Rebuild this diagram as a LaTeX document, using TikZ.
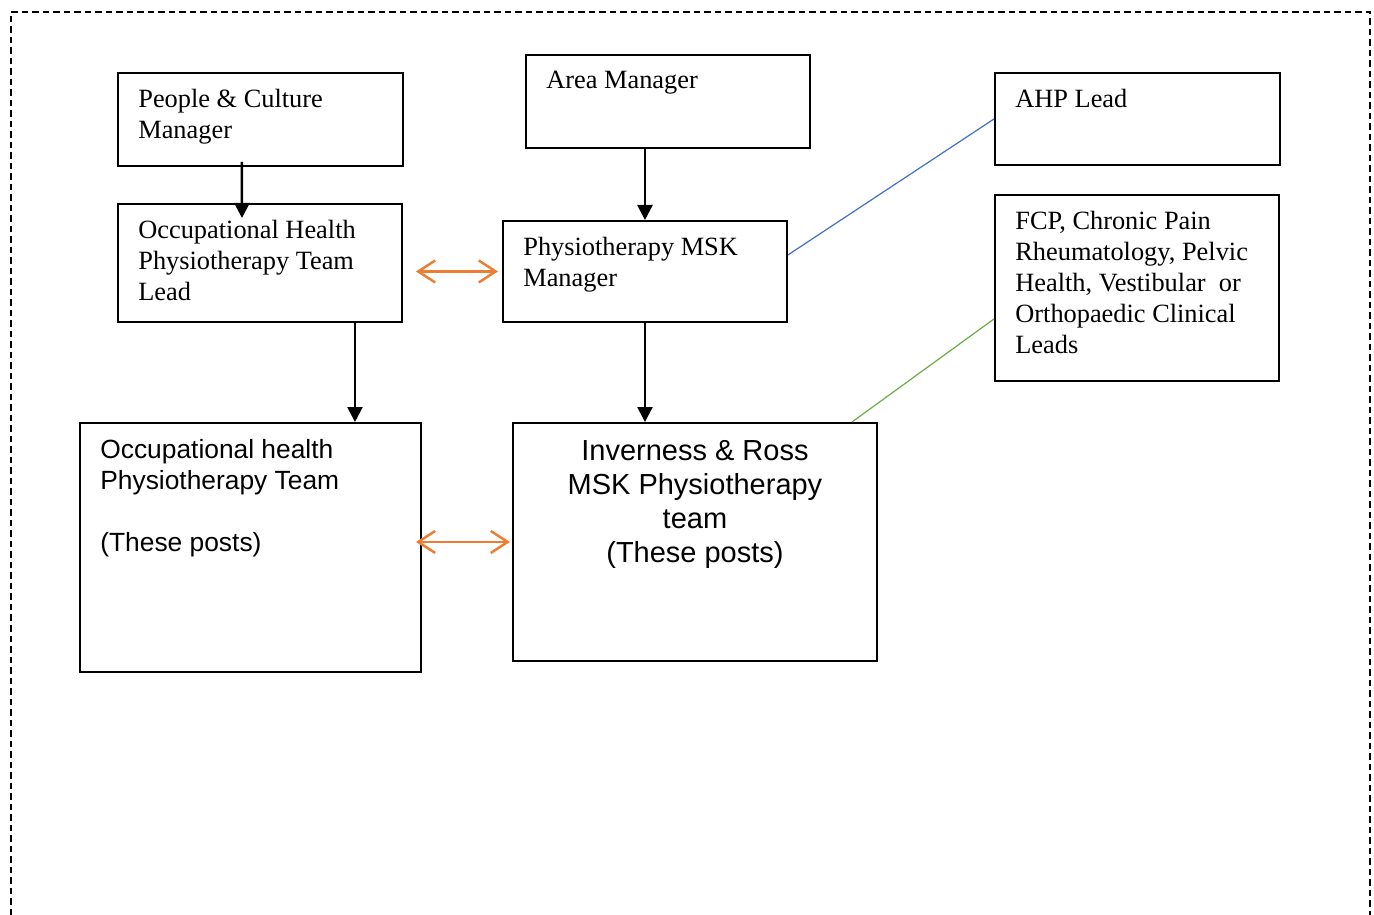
\documentclass[tikz,border=0pt]{standalone}
\usepackage{fontspec}
\setmainfont{Liberation Serif}
\setsansfont{Liberation Sans}
\usetikzlibrary{arrows.meta}

\begin{document}
\begin{tikzpicture}[x=0.2mm, y=-0.2mm,
box/.style={draw, line width=1.1pt, anchor=north west, inner sep=0pt},
txt/.style={anchor=north west, inner sep=0pt, align=left, xshift=4.2mm, yshift=-3.4mm,
    font=\fontsize{15}{17.6}\selectfont},
teamtxt/.style={anchor=north west, inner sep=0pt, align=left, xshift=4.2mm, yshift=-3.4mm,
    font=\sffamily\fontsize{15}{17.6}\selectfont},
invtxt/.style={anchor=north, inner sep=0pt, align=center, yshift=-3.6mm,
    font=\sffamily\fontsize{16.5}{19.3}\selectfont},
down/.style={-{Triangle[length=3mm,width=3mm]}, line width=1.4pt},
twoway/.style={{Straight Barb[length=3.4mm,width=4.4mm]}-{Straight Barb[length=3.4mm,width=4.4mm]}, line width=1.4pt, draw=linkorange},
ahpline/.style={draw=ahpblue, line width=0.7pt},
leadline/.style={draw=leadgreen, line width=0.7pt}]

% Define line colors
\definecolor{linkorange}{HTML}{ED7D31}
\definecolor{ahpblue}{HTML}{4472C4}
\definecolor{leadgreen}{HTML}{70AD47}

\useasboundingbox (0,0) rectangle (1374,915);
\draw[dash pattern=on 1.3mm off 0.8mm, line width=1pt] (11,915) -- (11,12) -- (1370,12) -- (1370,915); %page frame, open at the bottom

% Top row
\node[box, minimum width=57mm, minimum height=18.6mm, label={[txt]north west:People \& Culture\\Manager}] (pcm) at (117,72) {};
\node[box, minimum width=56.8mm, minimum height=18.6mm, label={[txt]north west:Area Manager}] (area) at (525,54) {};
\node[box, minimum width=57mm, minimum height=18.4mm, label={[txt]north west:AHP Lead}] (ahp) at (994,72) {};

% Middle row
\node[box, minimum width=56.8mm, minimum height=23.6mm, label={[txt]north west:Occupational Health\\Physiotherapy Team\\Lead}] (ohlead) at (117,203) {};
\node[box, minimum width=56.8mm, minimum height=20.2mm, label={[txt]north west:Physiotherapy MSK\\Manager}] (msk) at (502,220) {};
\node[box, minimum width=56.8mm, minimum height=37.2mm, label={[txt]north west:FCP, Chronic Pain\\Rheumatology, Pelvic\\Health, Vestibular\ \ or\\Orthopaedic Clinical\\Leads}] (fcp) at (994,194) {};

% Teams
\node[box, minimum width=68.2mm, minimum height=49.8mm, label={[teamtxt]north west:Occupational health\\Physiotherapy Team\\[17.6pt](These posts)}] (ohteam) at (79,422) {};
\node[box, minimum width=72.8mm, minimum height=47.6mm, label={[invtxt]north:Inverness \& Ross\\MSK Physiotherapy\\team\\(These posts)}] (inv) at (512,422) {};

% Reporting lines
\draw[down] ([xshift=-3.7mm,yshift=1mm]pcm.south) -- ([xshift=-3.6mm,yshift=-3mm]ohlead.north);
\draw[down] (area.south -| msk.north) -- (msk.north);
\draw[down] ([xshift=19mm]ohlead.south) -- ([xshift=19mm]ohlead.south |- ohteam.north);
\draw[down] (msk.south) -- (msk.south |- inv.north);

% Links between the two services
\draw[twoway, shorten <=2.6mm, shorten >=0.8mm] (ohlead.east |- msk.west) -- (msk.west);
\draw[twoway, shorten <=-1.2mm, shorten >=0.4mm] (ohteam.east |- inv.west) -- (inv.west);

% Professional leads
\draw[ahpline] ([yshift=3.3mm]msk.east) -- (ahp.west);
\draw[leadline] ([xshift=31.4mm]inv.north) -- ([yshift=-6.2mm]fcp.west);
\end{tikzpicture}
\end{document}
